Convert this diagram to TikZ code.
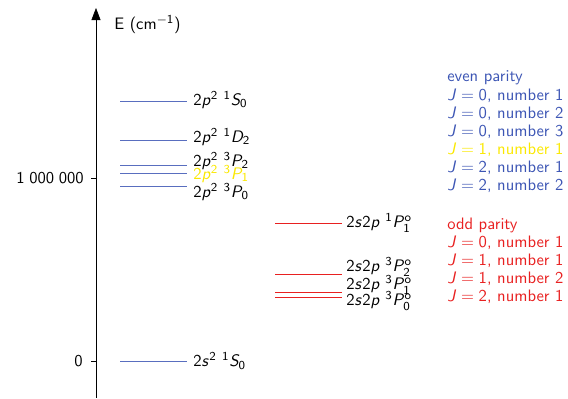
\documentclass[tikz,border=0pt]{standalone}
\usetikzlibrary{arrows.meta}
\DeclareMathAlphabet{\mathsfit}{OT1}{cmss}{m}{sl}
\definecolor{evenblue}{RGB}{60,85,180}
\definecolor{oddred}{RGB}{232,32,32}
\definecolor{jyellow}{RGB}{250,232,0}
\newcommand{\eventerm}[3]{$\mathsf{2}\mathsfit{p}^{\mathsf{2}}\ {}^{\mathsf{#1}}\mathsfit{#2}_{\mathsf{#3}}$}
\newcommand{\oddterm}[2]{$\mathsf{2}\mathsfit{s}\mathsf{2}\mathsfit{p}\ {}^{\mathsf{#1}}\mathsfit{P}^{\mathsf{o}}_{\mathsf{#2}}$}
\newcommand{\jnum}[2]{$\mathsfit{J}=\mathsf{#1}$, number #2}
\begin{document}
\begin{tikzpicture}[
    x=0.0231cm, y=0.0231cm,
    every node/.append style={font=\fontsize{10.9}{13}\selectfont\sffamily},
    lvl/.style={line width=0.6pt},
    even/.style={lvl, draw=evenblue!85},
    odd/.style={lvl, draw=oddred},
    term/.style={anchor=west, inner sep=0pt},
    legend/.style={anchor=west, inner sep=0pt},
    ticklabel/.style={anchor=east, inner sep=0pt}
]
\useasboundingbox (-96,-38) rectangle (472,361);

% energy axis
\coordinate (axbot) at (0,-37);
\coordinate (axtop) at (0,353);
\draw[-{Triangle[width=6pt,length=8pt]}] (axbot) -- (axtop);
\node[anchor=west] (elabel) at (13,336) {E (cm$^{\mathsf{-1}}$)};
\draw (-5,183) -- (0,183);
\draw (-5,0) -- (0,0);
\node[ticklabel] (tick1) at (-12,183) {1\;000\;000};
\node[ticklabel] (tick0) at (-13,0) {0};

% even parity levels
\draw[even] (24,0) -- (91,0);
\draw[even] (24,175) -- (91,175);
\draw[even] (24,188) -- (91,188);
\draw[even] (24,196) -- (91,196);
\draw[even] (24,221) -- (91,221);
\draw[even] (24,260) -- (91,260);
\node[term] (gs) at (97,0) {$\mathsf{2}\mathsfit{s}^{\mathsf{2}}\ {}^{\mathsf{1}}\mathsfit{S}_{\mathsf{0}}$};
\node[term] (p0) at (97,169) {\eventerm{3}{P}{0}};
\node[term, text=jyellow] (p1) at (97,187) {\eventerm{3}{P}{1}};
\node[term] (p2) at (97,200) {\eventerm{3}{P}{2}};
\node[term] (d2) at (97,224) {\eventerm{1}{D}{2}};
\node[term] (s0) at (97,261) {\eventerm{1}{S}{0}};

% odd parity levels
\draw[odd] (179,64) -- (246,64);
\draw[odd] (179,69) -- (246,69);
\draw[odd] (179,87) -- (246,87);
\draw[odd] (179,138) -- (246,138);
\node[term] (op0) at (250,60) {\oddterm{3}{0}};
\node[term] (op1) at (250,76) {\oddterm{3}{1}};
\node[term] (op2) at (250,94) {\oddterm{3}{2}};
\node[term] (sp1) at (250,138) {\oddterm{1}{1}};

% legend
\node[legend, text=evenblue] (even) at (351,283) {even parity};
\foreach \a/\b/\c [count=\i] in {0/1/evenblue, 0/2/evenblue, 0/3/evenblue,
    1/1/jyellow, 2/1/evenblue, 2/2/evenblue}
  \node[legend, text=\c] (even\i) at (351,283-18*\i) {\jnum{\a}{\b}};
\node[legend, text=oddred] (odd) at (351,136) {odd parity};
\foreach \a/\b [count=\i] in {0/1, 1/1, 1/2, 2/1}
  \node[legend, text=oddred] (odd\i) at (351,136-18*\i) {\jnum{\a}{\b}};
\end{tikzpicture}
\end{document}
